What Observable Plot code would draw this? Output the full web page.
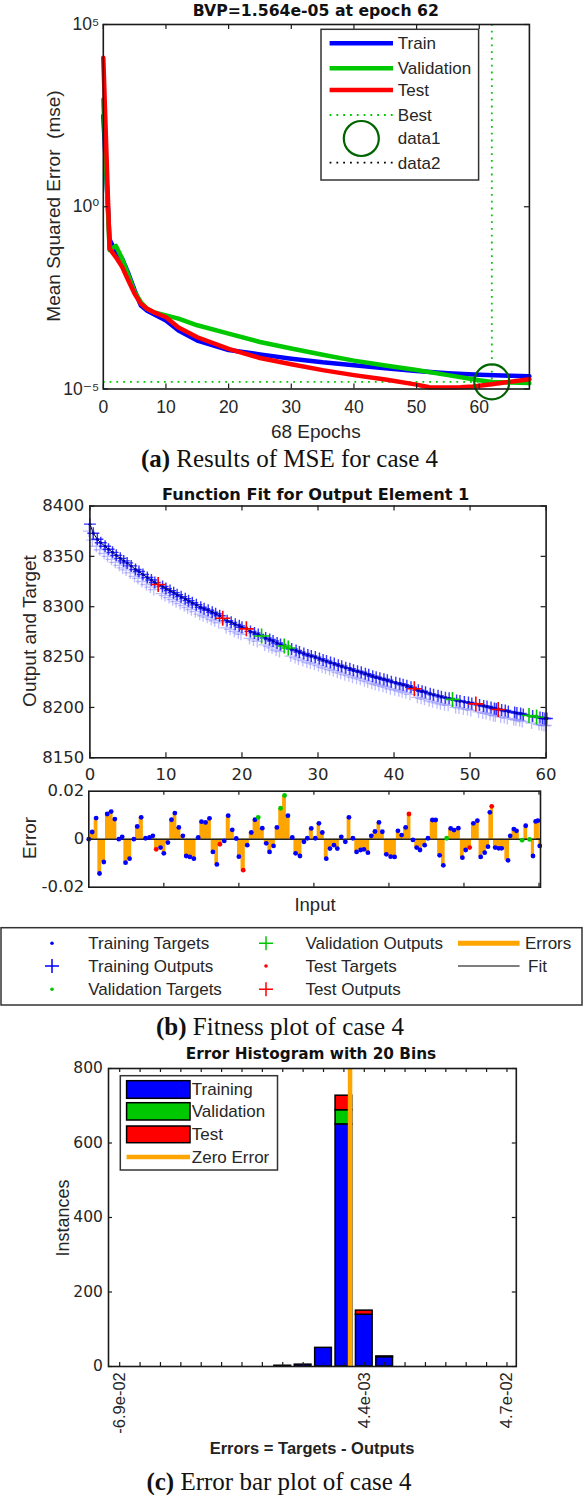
<!DOCTYPE html>
<html>
<head>
<meta charset="utf-8">
<script src="https://cdn.jsdelivr.net/npm/d3@7"></script>
<script src="https://cdn.jsdelivr.net/npm/@observablehq/plot@0.6"></script>
<style>
  html,body{margin:0;padding:0;background:#fff;}
  #fig{position:relative;width:584px;height:1495px;overflow:hidden;background:#fff;font-family:"Liberation Sans",Arial,sans-serif;color:#262626;}
  #fig > svg{position:absolute;left:0;}
  .t{position:absolute;white-space:pre;line-height:1;transform:translate(-50%,-50%);}
  .r{transform:translate(-50%,-50%) rotate(-90deg);}
  .ttl{font-family:"DejaVu Sans",sans-serif;font-weight:bold;color:#111;}
  .cap{font-family:"Liberation Serif","Times New Roman",serif;color:#111;}
</style>
</head>
<body>
<div id="fig"></div>
<script>
// ---------------- DATA ----------------
// (a) MSE per epoch
const epochsTrain = [0,1,2,3,4,5,6,7,8,10,12,15,20,25,30,35,40,45,50,55,60,65,68];
const mseTrain = [316,0.126,0.0575,0.038,0.0148,5.1e-3,1.95e-3,1.41e-3,1.15e-3,7.6e-4,4.0e-4,2.14e-4,1.17e-4,8.9e-5,6.8e-5,5.4e-5,4.5e-5,3.7e-5,3.1e-5,2.7e-5,2.45e-5,2.3e-5,2.24e-5];
const epochsVal = [0,1,2,3,4,5,6,7,8,10,12,15,20,25,30,35,40,45,50,55,60,62,65,68];
const mseVal = [871,0.0646,0.0851,0.038,0.0132,4.57e-3,2.4e-3,1.58e-3,1.29e-3,1.05e-3,8.5e-4,5.6e-4,3.3e-4,1.95e-4,1.29e-4,8.7e-5,6.0e-5,4.4e-5,3.3e-5,2.4e-5,1.74e-5,1.564e-5,1.51e-5,1.45e-5];
const epochsTest = [0,1,2,3,4,5,6,7,8,10,12,15,20,25,30,35,40,45,50,52,55,57,59,62,65,68];
const mseTest = [1.23e4,0.0708,0.0417,0.0224,9.5e-3,4.1e-3,2.19e-3,1.58e-3,1.29e-3,9.3e-4,4.9e-4,2.63e-4,1.26e-4,7.1e-5,4.8e-5,3.3e-5,2.4e-5,1.82e-5,1.32e-5,1.12e-5,1.10e-5,1.12e-5,1.17e-5,1.35e-5,1.58e-5,1.86e-5];
const bestEpoch = 62;
const bestPerf = 1.564e-5;
const xTicksA = [0,10,20,30,40,50,60];
const yTicksA = [1e-5,1,1e5];
const yTickTextA = ["10\u207B\u2075","10\u2070","10\u2075"];

// (b) function fit
const fitInput = [0.0,0.45,0.98,1.43,2.0,2.45,2.98,3.47,4.0,4.45,
  4.9,5.43,6.0,6.45,6.98,7.56,8.09,8.54,8.98,9.56,
  10.0,10.54,11.02,11.47,12.0,12.54,12.98,13.47,14.0,14.58,
  15.02,15.56,16.09,16.54,17.07,17.47,18.05,18.58,19.12,19.65,
  20.0,20.58,21.12,21.65,22.14,22.58,23.12,23.65,24.09,24.62,
  25.07,25.56,26.09,26.54,27.12,27.56,28.14,28.67,29.12,29.65,
  30.19,30.67,31.12,31.65,32.14,32.67,33.12,33.65,34.19,34.67,
  35.2,35.69,36.23,36.67,37.2,37.65,38.14,38.67,39.12,39.65,
  40.23,40.76,41.2,41.69,42.23,42.67,43.2,43.69,44.14,44.76,
  45.2,45.79,46.23,46.76,47.25,47.69,48.23,48.67,49.25,49.79,
  50.23,50.76,51.25,51.79,52.23,52.76,53.2,53.45,53.7,54.16,
  54.63,55.03,55.87,56.16,56.65,57.0,57.75,58.23,58.75,59.2,
  59.55,59.85,60.1];
const fitTarget = [8382,8373,8367,8363.5,8360,8357,8354,8351,8348,8345.5,
  8343.5,8340.5,8337,8335,8332,8329,8326.5,8324,8322,8320,
  8318,8316,8314,8312,8310,8308,8306,8304,8302,8299.5,
  8298,8296.5,8294.5,8293,8291,8288.5,8286,8284.5,8282.5,8281,
  8279.5,8278,8275.5,8274,8272.5,8271,8269,8267.5,8266,8264,
  8262.5,8261,8259,8258,8256.5,8255,8253.5,8252,8251,8250,
  8248.5,8247,8246,8244.5,8243.5,8242,8241,8239.5,8238.5,8237,
  8236,8235,8233.5,8232.5,8231,8230,8229,8228,8227,8225.5,
  8224.5,8223.5,8222.5,8221.5,8220,8218.5,8217,8216,8215,8213.5,
  8212.5,8211.5,8210.5,8209.5,8209,8208,8207,8206.5,8205.5,8205,
  8204,8203.5,8202.5,8201.5,8201,8200,8199,8198.5,8198,8197.5,
  8197,8196,8195,8194.5,8194,8193,8192,8191.5,8190.5,8190,
  8189.5,8189,8189];
const fitError = [0,0.003,0.0088,-0.0143,-0.0095,0.0105,0.0115,0.0084,0,0.001,
  -0.0098,-0.0081,0,0.0053,0.0091,0.0004,0.0007,0.0014,-0.0042,-0.0035,
  -0.0059,-0.0014,0.0081,0.0109,0.0049,0.0014,-0.007,-0.0074,-0.0081,0.0007,
  0.0073,0.007,0.0087,-0.0053,-0.0105,-0.0021,-0.0007,0.0098,0.0039,0.0003,
  -0.0073,-0.0129,-0.0025,0.0028,0.0081,0.0091,0.0046,-0.0017,-0.0053,-0.0028,
  0.0049,0.0129,0.0182,0.0098,0.0007,-0.0059,-0.007,-0.0011,0.0004,0.0045,
  0.0004,0.0066,0.0028,-0.0081,-0.0039,-0.0025,-0.0039,0.001,-0.0011,0.0091,
  0.0004,-0.0053,-0.0045,-0.0042,-0.0056,0.0014,0.0032,0.007,0.0031,-0.0063,
  -0.0073,-0.0074,0.0035,0.0017,0.0049,0.0105,-0.0003,-0.0035,-0.0045,-0.0025,
  0.0004,0.008,0.008,-0.0067,-0.0109,0.0004,0.0045,0.0038,0.0046,-0.0077,
  -0.0045,-0.0035,0.0066,0.0077,-0.0074,-0.0056,-0.0031,0.0112,0.0137,-0.0035,
  -0.0038,-0.0038,-0.0088,0.0014,0.0042,0.0035,-0.0004,0.0056,-0.0001,-0.007,
  0.0074,0.0077,-0.0028];
const fitTestPoints = [18,35,41,85,101,108];       // indices of test samples
const fitValidationPoints = [45,51,52,95,116,118]; // indices of validation samples
const xTicksB = [0,10,20,30,40,50,60];
const yTicksB = [8150,8200,8250,8300,8350,8400];
const yTicksErr = [-0.02,0,0.02];

// (c) error histogram
const binCenters = [-0.069,-0.062895,-0.05679,-0.050685,-0.04458,-0.038475,-0.03237,-0.026265,-0.02016,-0.014055,
  -0.00795,-0.001845,0.00426,0.010365,0.01647,0.022575,0.02868,0.034785,0.04089,0.046995];
const labeledBins = [-0.069,0.00426,0.046995];
const labeledBinText = ["-6.9e-02","4.4e-03","4.7e-02"];
const histBinIndex = [8,9,10,11,12,13];
const histTraining = [2,5,50,650,139,25];
const histValidation = [0,0,0,38,0,0];
const histTest = [0,0,0,39,11,2];
const yTicksC = [0,200,400,600,800];

// ---------------- DRAW ----------------
const W = 584;
const fig = document.getElementById("fig");
const BLUE="#0000ff", GREEN="#00c800", RED="#ff0000", ORANGE="#ffa500", DKGREEN="#006400", INK="#1a1a1a", TXT="#262626";
const SANS = "Liberation Sans, Arial, DejaVu Sans, sans-serif";
const DEJA = "DejaVu Sans, sans-serif";

function put(svg, top){ svg.style.top = top + "px"; fig.appendChild(svg); }
function txt(content, x, y, size, cls, extra){
  const d = document.createElement("div");
  d.className = "t " + (cls || "");
  d.style.left = x + "px"; d.style.top = y + "px"; d.style.fontSize = size + "px";
  if (extra) d.style.cssText += extra;
  d.innerHTML = content; fig.appendChild(d);
}
function tickMarks(xt, yt, pw, ph, len){
  const s = {stroke: INK, strokeOpacity: 1, strokeWidth: 1.2};
  return [
    Plot.gridX(xt, {...s, insetTop: ph - len}),
    Plot.gridX(xt, {...s, insetBottom: ph - len}),
    Plot.gridY(yt, {...s, insetRight: pw - len}),
    Plot.gridY(yt, {...s, insetLeft: pw - len})
  ];
}
const plusSymbol = {draw(ctx, size){ const r = Math.sqrt(size / Math.PI); ctx.moveTo(-r,0); ctx.lineTo(r,0); ctx.moveTo(0,-r); ctx.lineTo(0,r); }};

// ---- Panel (a)
const A = {h:445, mt:24, mb:56.5, ml:102.8, mr:55.1};
const aPW = W - A.ml - A.mr, aPH = A.h - A.mt - A.mb;
const trainRows = epochsTrain.map((e,i)=>({epoch:e, mse:mseTrain[i]}));
const valRows = epochsVal.map((e,i)=>({epoch:e, mse:mseVal[i]}));
const testRows = epochsTest.map((e,i)=>({epoch:e, mse:mseTest[i]}));
const yTextA = new Map(yTicksA.map((d,i)=>[d, yTickTextA[i]]));
const svgA = Plot.plot({
  width: W, height: A.h, marginTop: A.mt, marginBottom: A.mb, marginLeft: A.ml, marginRight: A.mr,
  style: {background: "transparent", overflow: "visible"},
  x: {domain: [0,68], label: null},
  y: {type: "log", domain: [1e-5,1e5], label: null},
  marks: [
    Plot.ruleY([bestPerf], {stroke: GREEN, strokeWidth: 1.8, strokeDasharray: "1.8,5"}),
    Plot.ruleX([bestEpoch], {stroke: GREEN, strokeWidth: 1.8, strokeDasharray: "1.8,5"}),
    Plot.line(trainRows, {x: "epoch", y: "mse", stroke: BLUE, strokeWidth: 4.5}),
    Plot.line(valRows, {x: "epoch", y: "mse", stroke: GREEN, strokeWidth: 4.5}),
    Plot.line(testRows, {x: "epoch", y: "mse", stroke: RED, strokeWidth: 4.5}),
    Plot.dot([{epoch: bestEpoch, mse: bestPerf}], {x: "epoch", y: "mse", r: 17.5, stroke: DKGREEN, strokeWidth: 2.2, fill: "none"}),
    ...tickMarks(xTicksA, yTicksA, aPW, aPH, 5),
    Plot.frame({stroke: INK, strokeWidth: 1.6}),
    Plot.axisX(xTicksA, {anchor: "bottom", tickSize: 0, tickPadding: 12, label: null, fontSize: 17.5, fontFamily: SANS, fill: TXT}),
    Plot.axisY(yTicksA, {anchor: "left", tickSize: 0, tickPadding: 4, label: null, fontSize: 17.5, fontFamily: SANS, fill: TXT, tickFormat: d => yTextA.get(d)})
  ]
});
put(svgA, 0);

// ---- Panel (b) fit
const fitRows = fitInput.map((x,i)=>({
  input: x, target: fitTarget[i], error: fitError[i], output: fitTarget[i] - fitError[i],
  subset: fitTestPoints.includes(i) ? "test" : fitValidationPoints.includes(i) ? "val" : "train"
}));
const tr = fitRows.filter(d=>d.subset==="train"), va = fitRows.filter(d=>d.subset==="val"), te = fitRows.filter(d=>d.subset==="test");
const B1 = {top:480, h:320, mt:25.5, mb:42.7, ml:89.4, mr:38.4};
const b1PW = W - B1.ml - B1.mr, b1PH = B1.h - B1.mt - B1.mb;
const svgB1 = Plot.plot({
  width: W, height: B1.h, marginTop: B1.mt, marginBottom: B1.mb, marginLeft: B1.ml, marginRight: B1.mr,
  style: {background: "transparent", overflow: "visible"},
  x: {domain: [0,60], label: null}, y: {domain: [8150,8400], label: null},
  marks: [
    Plot.line(fitRows, {x: "input", y: "target", stroke: "#000", strokeWidth: 1}),
    Plot.dot(tr, {x: "input", y: "output", symbol: plusSymbol, r: 6, fill: "none", stroke: "#6a6aff", strokeOpacity: 0.45, strokeWidth: 1.3, dy: 7, dx: -1}),
    Plot.dot(tr, {x: "input", y: "output", symbol: plusSymbol, r: 6, fill: "none", stroke: "#1010ff", strokeOpacity: 0.85, strokeWidth: 1.4}),
    Plot.dot(tr, {x: "input", y: "target", r: 1.5, fill: "#0000b0", stroke: "none"}),
    Plot.dot(va, {x: "input", y: "output", symbol: plusSymbol, r: 7.5, fill: "none", stroke: GREEN, strokeWidth: 1.6}),
    Plot.dot(te, {x: "input", y: "output", symbol: plusSymbol, r: 7.5, fill: "none", stroke: RED, strokeWidth: 1.6}),
    ...tickMarks(xTicksB, yTicksB, b1PW, b1PH, 5),
    Plot.frame({stroke: INK, strokeWidth: 1.6}),
    Plot.axisX(xTicksB, {anchor: "bottom", tickSize: 0, tickPadding: 10, label: null, fontSize: 16.5, fontFamily: DEJA, fill: TXT}),
    Plot.axisY(yTicksB, {anchor: "left", tickSize: 0, tickPadding: 5.6, label: null, fontSize: 16.5, fontFamily: DEJA, fill: TXT, tickFormat: d => String(d)})
  ]
});
put(svgB1, B1.top);

// ---- Panel (b) error
const B2 = {top:780, h:120, mt:10.7, mb:13.3, ml:88.3, mr:44};
const b2PW = W - B2.ml - B2.mr, b2PH = B2.h - B2.mt - B2.mb;
const svgB2 = Plot.plot({
  width: W, height: B2.h, marginTop: B2.mt, marginBottom: B2.mb, marginLeft: B2.ml, marginRight: B2.mr,
  style: {background: "transparent", overflow: "visible"},
  x: {domain: [0,60.2], label: null, axis: null}, y: {domain: [-0.02,0.02], label: null},
  marks: [
    Plot.areaY(fitRows, {x: "input", y: "error", curve: "step", fill: ORANGE}),
    Plot.ruleX(fitRows, {x: "input", y1: 0, y2: "error", stroke: ORANGE, strokeWidth: 2}),
    Plot.ruleY([0], {stroke: "#222", strokeWidth: 1.5}),
    Plot.dot(tr, {x: "input", y: "error", r: 2.4, fill: BLUE}),
    Plot.dot(va, {x: "input", y: "error", r: 2.4, fill: GREEN}),
    Plot.dot(te, {x: "input", y: "error", r: 2.4, fill: RED}),
    ...tickMarks(xTicksB.slice(1), [0], b2PW, b2PH, 4),
    Plot.frame({stroke: INK, strokeWidth: 1.6}),
    Plot.axisY(yTicksErr, {anchor: "left", tickSize: 0, tickPadding: 4.5, label: null, fontSize: 16.5, fontFamily: DEJA, fill: TXT, tickFormat: d => d === 0 ? "0" : d.toFixed(2)})
  ]
});
put(svgB2, B2.top);

// ---- Panel (c) histogram
const histRows = [];
histBinIndex.forEach((b,i)=>{
  const c = binCenters[b]; let base = 0;
  [[histTraining[i], BLUE], [histValidation[i], GREEN], [histTest[i], RED]].forEach(([n, col])=>{
    if (n > 0) { histRows.push({lo: c - 0.0025, hi: c + 0.0025, y1: base, y2: base + n, color: col}); base += n; }
  });
});
const C = {top:1040, h:420, mt:28, mb:94, ml:108, mr:68.2};
const cPW = W - C.ml - C.mr, cPH = C.h - C.mt - C.mb;
const binText = new Map(labeledBins.map((d,i)=>[d, labeledBinText[i]]));
const svgC = Plot.plot({
  width: W, height: C.h, marginTop: C.mt, marginBottom: C.mb, marginLeft: C.ml, marginRight: C.mr,
  style: {background: "transparent", overflow: "visible"},
  x: {domain: [-0.07235,0.04979], label: null}, y: {domain: [0,800], label: null},
  marks: [
    Plot.rect(histRows, {x1: "lo", x2: "hi", y1: "y1", y2: "y2", fill: d => d.color, stroke: "#000", strokeWidth: 1.5}),
    Plot.ruleX([0], {stroke: ORANGE, strokeWidth: 4.5}),
    ...tickMarks(binCenters, yTicksC, cPW, cPH, 4),
    Plot.frame({stroke: INK, strokeWidth: 1.6}),
    Plot.axisY(yTicksC, {anchor: "left", tickSize: 0, tickPadding: 5.6, label: null, fontSize: 15.5, fontFamily: DEJA, fill: TXT}),
    Plot.axisX(labeledBins, {anchor: "bottom", tickSize: 0, tickPadding: 5.7, tickRotate: -90, label: null, fontSize: 16.5, fontFamily: SANS, fill: TXT, tickFormat: d => binText.get(d)})
  ]
});
put(svgC, C.top);

// ---------------- TEXT ----------------
txt("BVP=1.564e-05 at epoch 62", 315.8, 10.5, 15.7, "ttl");
txt("Mean Squared Error  (mse)", 52.5, 206, 19, "r");
txt("68 Epochs", 315.8, 431, 19, "");
txt("<b>(a)</b> Results of MSE for case 4", 289.5, 458, 25, "cap");
txt("Function Fit for Output Element 1", 315.7, 495, 16.2, "ttl");
txt("Output and Target", 29, 631, 19, "r");
txt("Error", 29, 838, 19, "r");
txt("Input", 315, 905, 18.5, "");
txt("<b>(b)</b> Fitness plot of case 4", 280, 1025.7, 25, "cap");
txt("Error Histogram with 20 Bins", 311, 1055, 15.3, "ttl");
txt("Instances", 63.3, 1218, 18, "r");
txt("Errors = Targets - Outputs", 312, 1448, 16.5, "", "font-weight:bold;color:#222;");
txt("<b>(c)</b> Error bar plot of case 4", 279, 1481, 25, "cap");

// ---------------- LEGENDS ----------------
const ov = d3.create("svg").attr("width", W).attr("height", 1495).style("top", "0px").style("pointer-events", "none");
function box(x1,y1,x2,y2){ ov.append("rect").attr("x",x1).attr("y",y1).attr("width",x2-x1).attr("height",y2-y1).attr("fill","#fff").attr("stroke","#333").attr("stroke-width",1.5); }
function ltext(s,x,y){ ov.append("text").attr("x",x).attr("y",y).attr("dy","0.35em").attr("font-size",17).attr("font-family",SANS).attr("fill",TXT).text(s); }
function lline(x1,x2,y,col,w,dash){ const l = ov.append("line").attr("x1",x1).attr("x2",x2).attr("y1",y).attr("y2",y).attr("stroke",col).attr("stroke-width",w); if(dash) l.attr("stroke-dasharray",dash); }
function lplus(x,y,r,col,w){ ov.append("path").attr("d",`M${x-r},${y}H${x+r}M${x},${y-r}V${y+r}`).attr("stroke",col).attr("stroke-width",w).attr("fill","none"); }
function ldot(x,y,r,col){ ov.append("circle").attr("cx",x).attr("cy",y).attr("r",r).attr("fill",col); }
function lpatch(x,y,w,h,col){ ov.append("rect").attr("x",x).attr("y",y).attr("width",w).attr("height",h).attr("fill",col).attr("stroke","#000").attr("stroke-width",1.5); }

// legend (a)
box(321,29.3,478.6,180);
lline(329.6,393,43.3,BLUE,4.5); ltext("Train",397.8,43.3);
lline(329.6,393,68.3,GREEN,4.5); ltext("Validation",397.8,68.3);
lline(329.6,393,90,RED,4.5); ltext("Test",397.8,90);
lline(329.6,393,115,GREEN,1.8,"1.8,5"); ltext("Best",397.8,115);
ov.append("circle").attr("cx",361.3).attr("cy",138.5).attr("r",17.5).attr("fill","none").attr("stroke",DKGREEN).attr("stroke-width",2.2); ltext("data1",397.8,138.5);
lline(329.6,393,162.7,"#000",1.8,"1.8,5"); ltext("data2",397.8,162.7);

// legend (b)
box(1,927.7,582,1005);
ldot(52,943.3,1.8,BLUE); ltext("Training Targets",88.3,943.3);
lplus(52,966,7,BLUE,1.5); ltext("Training Outputs",88.3,966);
ldot(52,989.3,1.8,GREEN); ltext("Validation Targets",88.3,989.3);
lplus(266,943.3,7,GREEN,1.5); ltext("Validation Outputs",305.4,943.3);
ldot(266,966,1.8,RED); ltext("Test Targets",305.4,966);
lplus(266,989.3,7,RED,1.5); ltext("Test Outputs",305.4,989.3);
lline(458,519.6,943.3,ORANGE,5); ltext("Errors",525,943.3);
lline(458,519.6,966,"#000",1.2); ltext("Fit",528,966);

// legend (c)
box(120.3,1075.7,277.5,1170);
lpatch(126.6,1080.7,63.4,17.6,BLUE); ltext("Training",191.8,1089.5);
lpatch(126.6,1102.7,63.4,17.3,GREEN); ltext("Validation",191.8,1111.3);
lpatch(126.6,1126,63.4,16.7,RED); ltext("Test",191.8,1134.3);
lline(126.6,190,1157,ORANGE,4.5); ltext("Zero Error",191.8,1157);

fig.appendChild(ov.node());
</script>
</body>
</html>
